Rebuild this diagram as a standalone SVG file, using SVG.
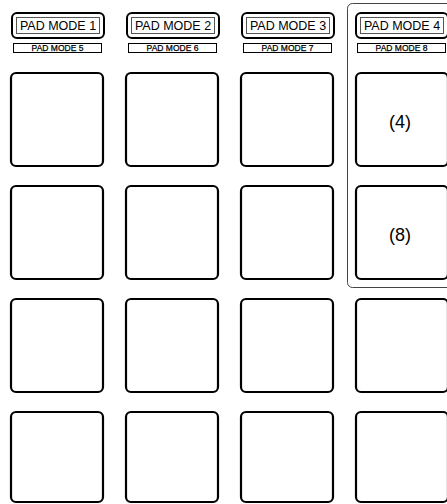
<svg xmlns="http://www.w3.org/2000/svg" width="447" height="504" viewBox="0 0 447 504">
<style>
.pad{fill:#fff;stroke:#000;stroke-width:2.2}
.outer{fill:#fff;stroke:#000;stroke-width:2}
.inner{fill:#fff;stroke:#555;stroke-width:1}
.sub{fill:#fff;stroke:#000;stroke-width:1}
.t1{font-family:"Liberation Sans",Arial,sans-serif;font-size:12.5px;text-anchor:middle;fill:#000}
.t2{font-family:"Liberation Sans",Arial,sans-serif;font-size:8.5px;text-anchor:middle;fill:#000;stroke:#000;stroke-width:0.25}
.lbl{font-family:"Liberation Sans",Arial,sans-serif;font-size:18px;text-anchor:middle;fill:#000}
.frame{fill:none;stroke:#444;stroke-width:1}
</style>
<rect class="frame" x="347.5" y="3.5" width="110" height="284" rx="5"/>
<g id="btn1"><rect class="outer" x="12" y="13" width="92" height="25" rx="5"/><rect class="inner" x="16.5" y="17.5" width="83" height="16"/><text class="t1" x="58" y="30">PAD MODE 1</text><rect class="sub" x="13.5" y="43.5" width="88" height="9"/><text class="t2" x="57.5" y="51">PAD MODE 5</text></g>
<g id="btn2"><rect class="outer" x="127" y="13" width="92" height="25" rx="5"/><rect class="inner" x="131.5" y="17.5" width="83" height="16"/><text class="t1" x="173" y="30">PAD MODE 2</text><rect class="sub" x="128.5" y="43.5" width="88" height="9"/><text class="t2" x="172.5" y="51">PAD MODE 6</text></g>
<g id="btn3"><rect class="outer" x="242" y="13" width="92" height="25" rx="5"/><rect class="inner" x="246.5" y="17.5" width="83" height="16"/><text class="t1" x="288" y="30">PAD MODE 3</text><rect class="sub" x="243.5" y="43.5" width="88" height="9"/><text class="t2" x="287.5" y="51">PAD MODE 7</text></g>
<g id="btn4"><rect class="outer" x="356" y="13" width="92" height="25" rx="5"/><rect class="inner" x="360.5" y="17.5" width="83" height="16"/><text class="t1" x="402" y="30">PAD MODE 4</text><rect class="sub" x="357.5" y="43.5" width="88" height="9"/><text class="t2" x="401.5" y="51">PAD MODE 8</text></g>
<g id="pad-r1c1"><rect class="pad" x="11" y="73" width="92" height="93" rx="5"/></g>
<g id="pad-r1c2"><rect class="pad" x="126" y="73" width="92" height="93" rx="5"/></g>
<g id="pad-r1c3"><rect class="pad" x="241" y="73" width="92" height="93" rx="5"/></g>
<g id="pad-r1c4"><rect class="pad" x="356" y="73" width="92" height="93" rx="5"/><text class="lbl" x="400" y="128">(4)</text></g>
<g id="pad-r2c1"><rect class="pad" x="11" y="186" width="92" height="93" rx="5"/></g>
<g id="pad-r2c2"><rect class="pad" x="126" y="186" width="92" height="93" rx="5"/></g>
<g id="pad-r2c3"><rect class="pad" x="241" y="186" width="92" height="93" rx="5"/></g>
<g id="pad-r2c4"><rect class="pad" x="356" y="186" width="92" height="93" rx="5"/><text class="lbl" x="400" y="241">(8)</text></g>
<g id="pad-r3c1"><rect class="pad" x="11" y="299" width="92" height="93" rx="5"/></g>
<g id="pad-r3c2"><rect class="pad" x="126" y="299" width="92" height="93" rx="5"/></g>
<g id="pad-r3c3"><rect class="pad" x="241" y="299" width="92" height="93" rx="5"/></g>
<g id="pad-r3c4"><rect class="pad" x="356" y="299" width="92" height="93" rx="5"/></g>
<g id="pad-r4c1"><rect class="pad" x="11" y="412" width="92" height="90" rx="5"/></g>
<g id="pad-r4c2"><rect class="pad" x="126" y="412" width="92" height="90" rx="5"/></g>
<g id="pad-r4c3"><rect class="pad" x="241" y="412" width="92" height="90" rx="5"/></g>
<g id="pad-r4c4"><rect class="pad" x="356" y="412" width="92" height="90" rx="5"/></g>
<g id="connectors"></g>
</svg>
